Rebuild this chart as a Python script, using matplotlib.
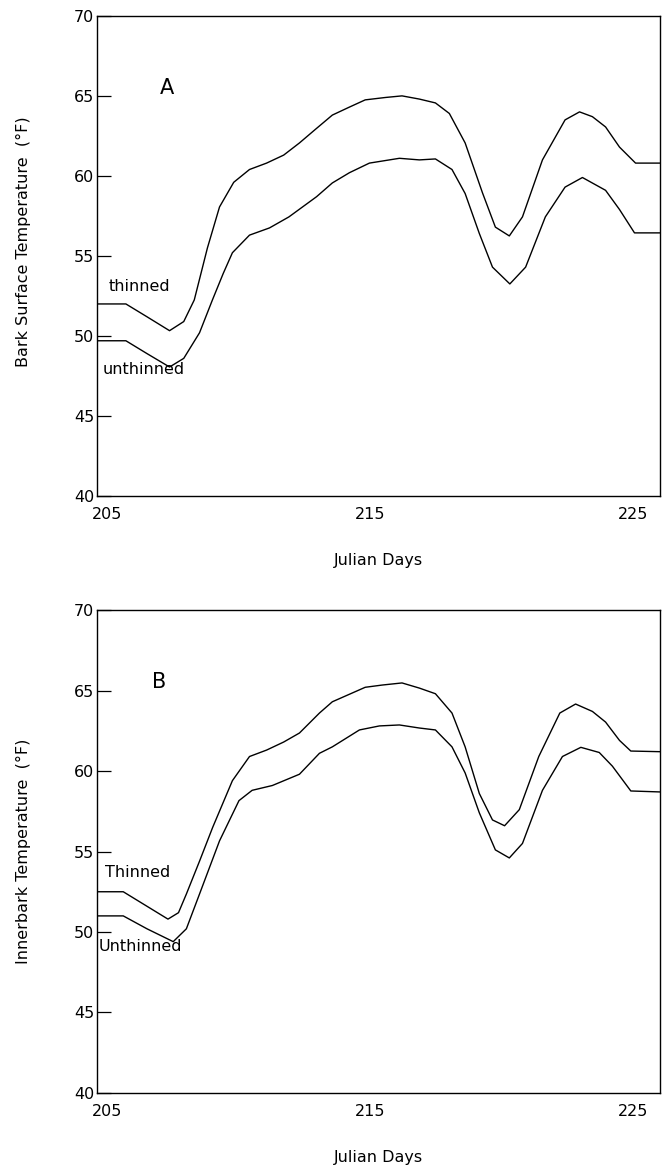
import matplotlib
matplotlib.use("Agg")
import matplotlib.pyplot as plt

# Panel A: bark surface temperature
a_thin_x = [204.6, 205.7, 206.5, 207.36, 207.9, 208.3, 208.8, 209.26, 209.8, 210.4, 211.05, 211.7, 212.3, 212.9, 213.55,
            214.2, 214.8, 215.57, 216.2, 216.86, 217.47, 218.0, 218.6, 219.26, 219.75, 220.28, 220.78, 221.54,
            222.4, 222.95, 223.44, 223.94, 224.47, 225.08, 226.0]
a_thin_y = [52.0, 52.0, 51.2, 50.33, 50.9, 52.25, 55.5, 58.06, 59.6, 60.4, 60.8, 61.3, 62.06, 62.9, 63.8,
            64.3, 64.75, 64.9, 65.0, 64.8, 64.56, 63.9, 62.06, 58.94, 56.8, 56.25, 57.44, 61.0,
            63.5, 64.0, 63.7, 63.06, 61.8, 60.8, 60.8]
a_unth_x = [204.6, 205.7, 206.5, 207.36, 207.9, 208.5, 208.99, 209.4, 209.75, 210.4, 211.16, 211.9, 212.95, 213.55,
            214.2, 214.96, 216.1, 216.86, 217.47, 218.1, 218.6, 219.14, 219.64, 220.3, 220.9, 221.65,
            222.4, 223.06, 223.94, 224.47, 225.04, 226.0]
a_unth_y = [49.7, 49.7, 48.9, 48.06, 48.6, 50.2, 52.25, 53.9, 55.2, 56.3, 56.75, 57.44, 58.7, 59.56,
            60.2, 60.8, 61.1, 61.0, 61.06, 60.4, 58.9, 56.4, 54.3, 53.25, 54.3, 57.44,
            59.3, 59.9, 59.1, 57.9, 56.44, 56.44]

# Panel B: innerbark temperature
b_thin_x = [204.6, 205.6, 206.4, 207.3, 207.7, 208.0, 208.5, 209.0, 209.75, 210.4, 211.05, 211.7, 212.3, 213.06, 213.55,
            214.8, 215.45, 216.2, 216.86, 217.47, 218.1, 218.6, 219.14, 219.64, 220.1, 220.66, 221.4,
            222.2, 222.8, 223.44, 223.94, 224.47, 224.9, 226.0]
b_thin_y = [52.5, 52.5, 51.7, 50.8, 51.2, 52.36, 54.4, 56.5, 59.4, 60.9, 61.3, 61.8, 62.36, 63.6, 64.3,
            65.2, 65.34, 65.47, 65.15, 64.8, 63.6, 61.5, 58.6, 56.96, 56.6, 57.6, 60.9,
            63.6, 64.16, 63.7, 63.04, 61.9, 61.24, 61.2]
b_unth_x = [204.6, 205.6, 206.5, 207.5, 208.0, 208.5, 209.26, 210.0, 210.5, 211.27, 212.3, 213.06, 213.55,
            214.58, 215.34, 216.1, 216.86, 217.47, 218.1, 218.6, 219.14, 219.75, 220.28, 220.78, 221.54,
            222.3, 223.0, 223.7, 224.2, 224.9, 226.0]
b_unth_y = [51.0, 51.0, 50.2, 49.4, 50.2, 52.36, 55.66, 58.16, 58.8, 59.1, 59.8, 61.1, 61.5,
            62.55, 62.8, 62.86, 62.67, 62.55, 61.5, 59.88, 57.4, 55.1, 54.6, 55.5, 58.8,
            60.9, 61.47, 61.15, 60.3, 58.76, 58.7]

x_ticks = [205, 215, 225]
y_ticks = [40, 45, 50, 55, 60, 65, 70]

panels = [
    dict(tx=a_thin_x, ty=a_thin_y, ux=a_unth_x, uy=a_unth_y, letter="A",
         ylabel="Bark Surface Temperature  (°F)", thin="thinned", unth="unthinned",
         pos=[0.1456, 0.5775, 0.845, 0.409], letter_xy=(207.0, 65.5),
         thin_xy=(205.05, 53.1), unth_xy=(204.8, 47.9), ylab_y=0.53),
    dict(tx=b_thin_x, ty=b_thin_y, ux=b_unth_x, uy=b_unth_y, letter="B",
         ylabel="Innerbark Temperature  (°F)", thin="Thinned", unth="Unthinned",
         pos=[0.1456, 0.069, 0.845, 0.4114], letter_xy=(206.7, 65.5),
         thin_xy=(204.9, 53.7), unth_xy=(204.68, 49.1), ylab_y=0.50),
]

fig = plt.figure(figsize=(6.66, 11.74), dpi=100)
fs = 11.5
for p in panels:
    ax = fig.add_axes(p["pos"])
    ax.plot(p["tx"], p["ty"], color="black", lw=1.0)
    ax.plot(p["ux"], p["uy"], color="black", lw=1.0)
    ax.set_xlim(204.6, 226.0)
    ax.set_ylim(40, 70)
    ax.set_yticks(y_ticks)
    ax.set_xticks(x_ticks)
    ax.tick_params(axis="y", direction="in", length=10, width=0.9, labelsize=fs, pad=2)
    ax.tick_params(axis="x", length=0, labelsize=fs, pad=8)
    for s in ax.spines.values():
        s.set_linewidth(1.0)
    ax.set_ylabel(p["ylabel"], fontsize=fs)
    ax.yaxis.set_label_coords(-0.118, p["ylab_y"])
    ax.set_xlabel("Julian Days", fontsize=fs, labelpad=22)
    ax.text(*p["letter_xy"], p["letter"], fontsize=15, ha="left", va="center")
    ax.text(*p["thin_xy"], p["thin"], fontsize=fs, ha="left", va="center")
    ax.text(*p["unth_xy"], p["unth"], fontsize=fs, ha="left", va="center")

fig.savefig("out.png", dpi=100)
